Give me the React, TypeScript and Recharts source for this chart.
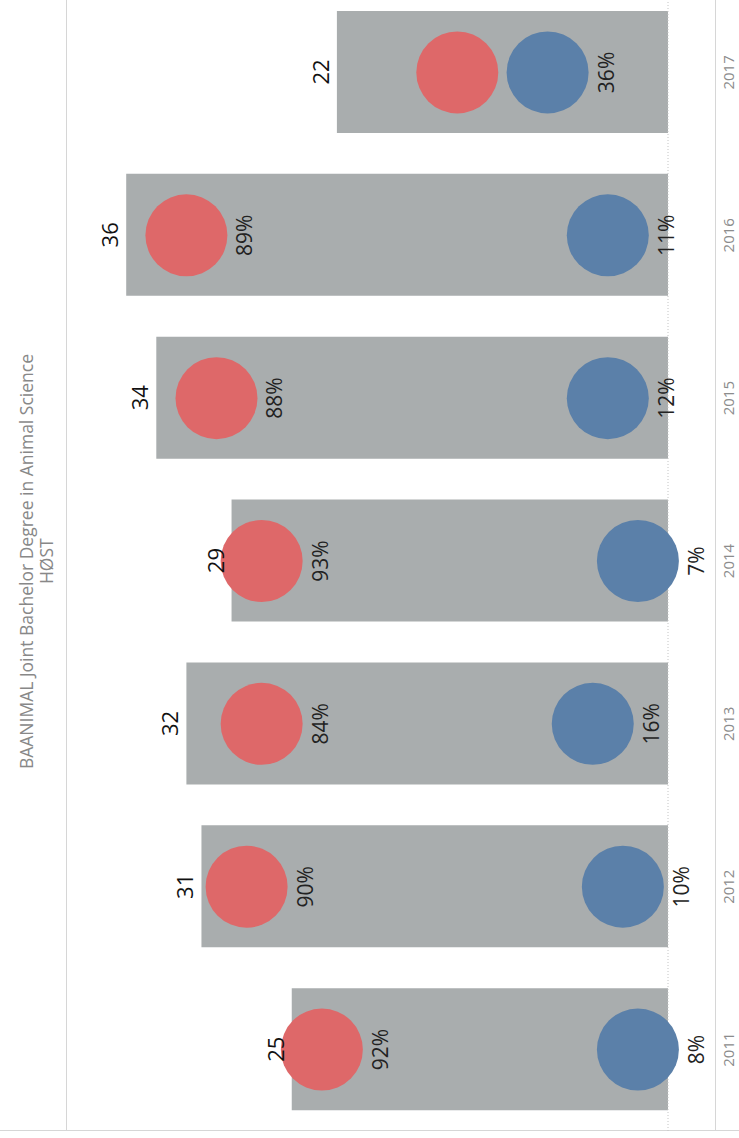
import React from 'react';
import { ComposedChart, Bar, Scatter, XAxis, YAxis, ReferenceLine, LabelList } from 'recharts';

const years = ['2011', '2012', '2013', '2014', '2015', '2016', '2017'];
const totals = [25, 31, 32, 29, 34, 36, 22];
const femaleCounts = [23, 28, 27, 27, 30, 32, 14];
const maleCounts = [2, 3, 5, 2, 4, 4, 8];
const femalePctLabels: (number | null)[] = [92, 90, 84, 93, 88, 89, null];
const malePctLabels = [8, 10, 16, 7, 12, 11, 36];
const axisMax = 40;

const data = years.map((year, i) => ({
  year,
  total: totals[i],
  female: femaleCounts[i],
  male: maleCounts[i],
  femalePct: femalePctLabels[i],
  malePct: malePctLabels[i],
}));

const FONT = '"Open Sans", "DejaVu Sans", sans-serif';
const RED = '#de6869';
const BLUE = '#5b80a9';
const BAR = '#a9adae';
const R = 41;

const makeDot = (color: string, pctKey: 'femalePct' | 'malePct') => (props: any) => {
  const { cx, cy, payload } = props;
  if (cx == null || cy == null) return <g />;
  const pct = payload ? payload[pctKey] : null;
  const tx = cx + R + 17;
  return (
    <g>
      <circle cx={cx} cy={cy} r={R} fill={color} />
      {pct != null && (
        <text
          x={tx}
          y={cy}
          transform={`rotate(-90, ${tx}, ${cy})`}
          textAnchor="middle"
          dominantBaseline="central"
          fontFamily={FONT}
          fontSize={21}
          fill="#222"
        >
          {pct}%
        </text>
      )}
    </g>
  );
};

const TotalLabel = (props: any) => {
  const { x, y, width, height, value } = props;
  const left = Math.min(x, x + width);
  const tx = left - 17;
  const cy = y + height / 2;
  return (
    <text
      x={tx}
      y={cy}
      transform={`rotate(-90, ${tx}, ${cy})`}
      textAnchor="middle"
      dominantBaseline="central"
      fontFamily={FONT}
      fontSize={22}
      fill="#111"
    >
      {value}
    </text>
  );
};

const YearTick = (props: any) => {
  const { x, y, payload } = props;
  const tx = x + 60;
  return (
    <text
      x={tx}
      y={y}
      transform={`rotate(-90, ${tx}, ${y})`}
      textAnchor="middle"
      dominantBaseline="central"
      fontFamily={FONT}
      fontSize={15}
      fill="#8c8c8c"
    >
      {payload.value}
    </text>
  );
};

export default function App() {
  return (
    <div style={{ position: 'absolute', top: 0, left: 0, width: 739, height: 1138, background: '#fff', overflow: 'hidden' }}>
      <div style={{ position: 'absolute', left: 6, top: 0, width: 60, height: 1124, display: 'flex', alignItems: 'center', justifyContent: 'center' }}>
        <div
          style={{
            writingMode: 'vertical-rl',
            transform: 'rotate(180deg)',
            textAlign: 'center',
            fontFamily: FONT,
            fontSize: 17.5,
            lineHeight: '20px',
            color: '#888888',
            whiteSpace: 'nowrap',
          }}
        >
          <div>BAANIMAL Joint Bachelor Degree in Animal Science</div>
          <div>HØST</div>
        </div>
      </div>
      <div style={{ position: 'absolute', left: 66, top: 0, width: 1, height: 1130, background: '#d6d6d6' }} />
      <div style={{ position: 'absolute', left: 715, top: 0, width: 1, height: 1130, background: '#d6d6d6' }} />
      <div style={{ position: 'absolute', left: 0, top: 1130, width: 739, height: 1, background: '#d6d6d6' }} />
      <div style={{ position: 'absolute', left: 0, top: 0 }}>
        <ComposedChart
          width={739}
          height={1138}
          data={data}
          layout="vertical"
          margin={{ top: -9, right: 0, bottom: 7, left: 66 }}
        >
          <XAxis type="number" domain={[0, axisMax]} reversed hide />
          <YAxis
            type="category"
            dataKey="year"
            orientation="right"
            reversed
            width={71}
            axisLine={false}
            tickLine={false}
            tickSize={0}
            tickMargin={0}
            tick={<YearTick />}
            interval={0}
          />
          <ReferenceLine x={0} stroke="#c4c4c4" strokeDasharray="1 2" />
          <Bar dataKey="total" fill={BAR} barSize={122} isAnimationActive={false}>
            <LabelList dataKey="total" content={<TotalLabel />} />
          </Bar>
          <Scatter dataKey="female" isAnimationActive={false} shape={makeDot(RED, 'femalePct')} />
          <Scatter dataKey="male" isAnimationActive={false} shape={makeDot(BLUE, 'malePct')} />
        </ComposedChart>
      </div>
    </div>
  );
}
